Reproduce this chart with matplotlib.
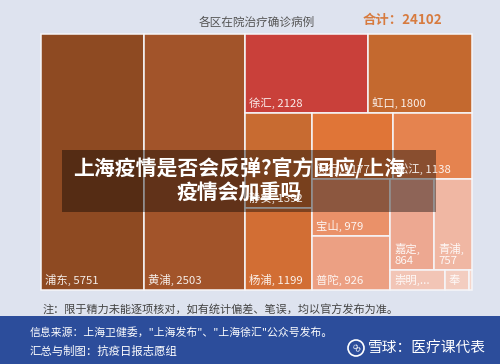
import matplotlib
matplotlib.use("Agg")
import matplotlib.pyplot as plt
from matplotlib.patches import Rectangle, Circle

plt.rcParams['font.family'] = ['Noto Sans CJK SC', 'DejaVu Sans']

# ----------------------------- data ---------------------------------------- #
districts = ['浦东', '黄浦', '徐汇', '虹口', '静安', '杨浦', '闵行', '松江',
             '宝山', '普陀', '嘉定', '青浦', '崇明', '奉贤', '金山']
cases = [5751, 2503, 2128, 1800, 1392, 1199, 1177, 1138,
         979, 926, 864, 757, 235, 106, 13]
# tile areas as drawn (the 黄浦 tile is drawn much bigger than its label says)
tile_size = [5751, 5637, 2128, 1800, 1392, 1199, 1177, 1138,
             979, 926, 864, 757, 235, 106, 13]
total_cases = 24102

tile_colors = ['#8E4A22', '#A2542A', '#C9403A', '#C4692F', '#C86B31', '#D26E34',
               '#E07537', '#E5834F', '#EA9169', '#ECA083', '#EDA891', '#F0B7A3',
               '#F2C5B6', '#F3CDC0', '#F5D6CB']

# how many tiles go in each strip of the treemap
strips = [1, 1, 2, 2, 2, 2, 2, 3]

#-----------------------------------------------------------------------------#

def strip_layout(sizes, strips, x, y, w, h):
    """Strip treemap: each strip is laid along the shorter side of what is left."""
    rects = []
    i = 0
    for k, n in enumerate(strips):
        group = sizes[i:i + n]
        rest = sum(sizes[i:])
        last = (k == len(strips) - 1)
        if last:
            # fill what is left, slicing along the longer side
            if w >= h:
                cx = x
                for s in group:
                    cw = w * s / sum(group)
                    rects.append((cx, y, cw, h))
                    cx += cw
            else:
                cy = y
                for s in group:
                    ch = h * s / sum(group)
                    rects.append((x, cy, w, ch))
                    cy += ch
        elif w >= h:
            sw = w * sum(group) / rest
            cy = y
            for s in group:
                ch = h * s / sum(group)
                rects.append((x, cy, sw, ch))
                cy += ch
            x += sw
            w -= sw
        else:
            sh = h * sum(group) / rest
            cx = x
            for s in group:
                cw = w * s / sum(group)
                rects.append((cx, y, cw, sh))
                cx += cw
            y += sh
            h -= sh
        i += n
    return rects

#-----------------------------------------------------------------------------#

fig = plt.figure(figsize=(5.0, 3.64), dpi=100)
fig.patch.set_facecolor('#DEE3EF')
ax = fig.add_axes([0, 0, 1, 1])
ax.set_xlim(0, 500)
ax.set_ylim(364, 0)
ax.axis('off')

# titles
ax.text(257, 22, '各区在院治疗确诊病例', fontsize=8.4, color='#555555',
        ha='center', va='center')
ax.text(363, 20, '合计：' + str(total_cases), fontsize=9.6, color='#D77B3F',
        fontweight='bold', ha='left', va='center')

# treemap tiles
rects = strip_layout(tile_size, strips, 41, 34, 431, 256)
for name, val, col, (rx, ry, rw, rh) in zip(districts, cases, tile_colors, rects):
    ax.add_patch(Rectangle((rx, ry), rw, rh, facecolor=col,
                           edgecolor='#F6F6F9', lw=1.1))
    if rw >= 60:
        label = f'{name}, {val}'
    elif rw >= 34 and rh >= 40:
        label = f'{name},\n{val}'
    elif rw >= 40:
        label = f'{name},...'
    elif rw >= 15:
        label = name[0]
    else:
        label = ''
    if label:
        ax.text(rx + 4, ry + rh - 4, label, fontsize=8.2, color='white',
                alpha=0.9, ha='left', va='bottom', linespacing=1.15)

# note under the chart
ax.text(43, 310, '注：限于精力未能逐项核对，如有统计偏差、笔误，均以官方发布为准。',
        fontsize=8.0, color='#444444', ha='left', va='center')

# blue footer band
ax.add_patch(Rectangle((0, 316), 500, 48, facecolor='#2C4D9B', edgecolor='none'))
ax.text(30, 332, '信息来源：上海卫健委，"上海发布"、"上海徐汇"公众号发布。',
        fontsize=7.8, color='white', ha='left', va='center')
ax.text(30, 351, '汇总与制图：抗疫日报志愿组', fontsize=8.2, color='white',
        ha='left', va='center')

# watermark
ax.add_patch(Circle((356, 348), 8, facecolor='none', edgecolor='white', lw=1.2))
ax.text(356, 348, '∞', fontsize=9, color='white', ha='center', va='center',
        rotation=-45, family='DejaVu Sans')
ax.text(368, 348, '雪球：医疗课代表', fontsize=10.6, color='white',
        ha='left', va='center')

# headline overlay
ax.add_patch(Rectangle((62, 150), 374, 62, facecolor='black', alpha=0.4,
                       edgecolor='none'))
ax.text(239, 181, '上海疫情是否会反弹?官方回应/上海\n疫情会加重吗', fontsize=15,
        color='white', fontweight='bold', ha='center', va='center',
        linespacing=1.15)

fig.savefig('out.png', dpi=100, facecolor=fig.get_facecolor())
